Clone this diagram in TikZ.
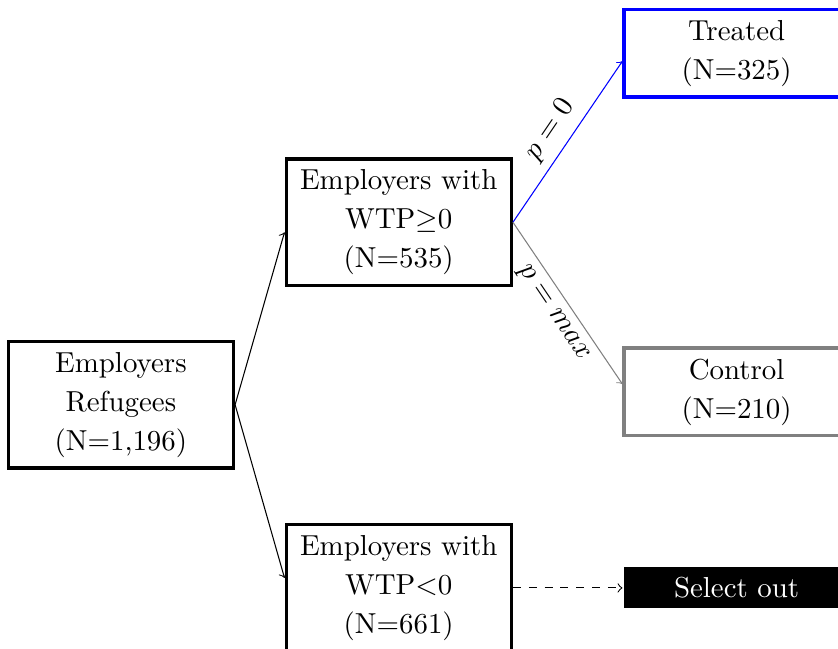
\documentclass[tikz,border=0pt]{standalone}
\usepackage{tikz}
\usepackage{amssymb}

\begin{document}
\begin{tikzpicture}[
	stage/.style = {
		shape=rectangle, draw, very thick,
		minimum width=3cm, align=center, inner ysep=4pt,
		font=\fontsize{10.95}{14.8}\selectfont},
	treatbox/.style = {stage, draw=blue},
	ctrlbox/.style = {stage, draw=gray},
	outbox/.style = {stage, draw=none, fill=black, text=white, minimum height=15.5pt, inner ysep=3pt},
	cond/.style = {sloped, pos=0.5, text=black, font=\fontsize{10.95}{14.8}\selectfont}]

	\useasboundingbox (0,0) rectangle (11.16,-8.64);

	\node[stage] (ref) at (1.61,-5.39) {Employers\\Refugees\\(N=1,196)};
	\node[stage] (wtpp) at (5.31,-2.96) {Employers with\\WTP$\geq$0\\(N=535)};
	\node[stage] (wtpn) at (5.31,-7.83) {Employers with\\WTP$<$0\\(N=661)};
	\node[treatbox] (treat) at (9.81,-0.71) {Treated\\(N=325)};
	\node[ctrlbox] (ctrl) at (9.81,-5.22) {Control\\(N=210)};
	\node[outbox] (sel) at (9.81,-7.83) {Select out};

	\draw[->] (ref.east) -- ([yshift=-3.8pt]wtpp.west);
	\draw[->] (ref.east) -- ([yshift=3.8pt]wtpn.west);
	\draw[->, blue] (wtpp.east) -- node[cond, above] {$p=0$} ([yshift=-3pt]treat.west);
	\draw[->, gray] (wtpp.east) -- node[cond, below] {$p=max$} ([yshift=3pt]ctrl.west);
	\draw[->, dashed] (wtpn.east) -- (sel.west);
\end{tikzpicture}
\end{document}
